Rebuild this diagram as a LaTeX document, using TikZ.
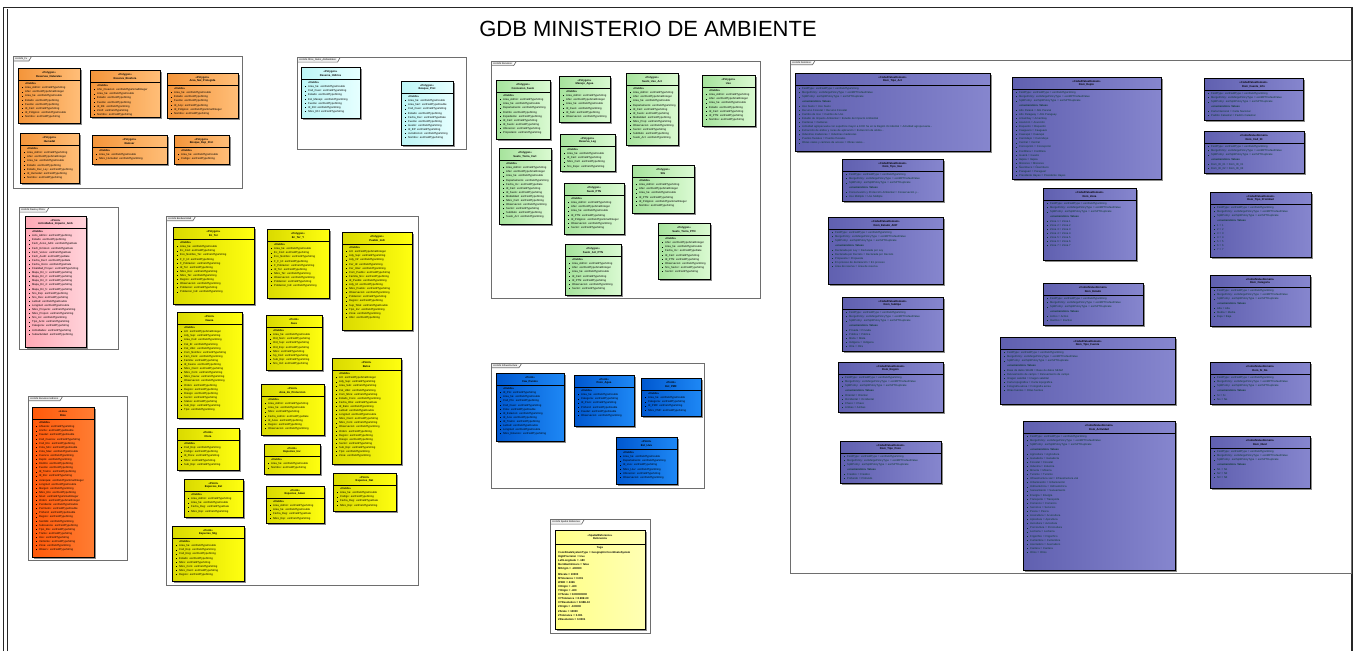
\documentclass[tikz,border=0pt]{standalone}
\usepackage{fontspec}
\setmainfont{Liberation Sans}
\usepackage{etoolbox}
\definecolor{orA}{HTML}{F4953A}\definecolor{orB}{HTML}{FFBE78}
\definecolor{cyA}{HTML}{BDF6F6}\definecolor{cyB}{HTML}{E6FFFF}
\definecolor{grA}{HTML}{A6E39C}\definecolor{grB}{HTML}{DAFAD2}
\definecolor{pkA}{HTML}{FFA9B6}\definecolor{pkB}{HTML}{FFD3DA}
\definecolor{rdA}{HTML}{FF5A0A}\definecolor{rdB}{HTML}{FF7D33}
\definecolor{ylA}{HTML}{DADA00}\definecolor{ylB}{HTML}{FFFF10}
\definecolor{blA}{HTML}{0058D0}\definecolor{blB}{HTML}{1E88F5}
\definecolor{lyA}{HTML}{FFFF88}\definecolor{lyB}{HTML}{FFFFB4}
\definecolor{puA}{HTML}{6060B0}\definecolor{puB}{HTML}{8686CE}
\definecolor{pkgc}{HTML}{6E6E6E}
\definecolor{domtxt}{HTML}{0A3A2A}
\newcommand\tS{: esriFieldTypeString}
\newcommand\tD{: esriFieldTypeDouble}
\newcommand\tI{: esriFieldTypeInteger}
\newcommand\tSI{: esriFieldTypeSmallInteger}
\newcommand\tDt{: esriFieldTypeDate}
\newcommand\fh[1]{\leavevmode\llap{\rule[0.5pt]{0.8pt}{0.8pt}\hspace{2pt}}\ignorespaces#1\par}
\tikzset{
  clsbox/.style={draw=black,line width=0.9pt,inner sep=0pt,anchor=north west,rectangle},
  clsshadow/.style={fill=black!45},
  clsline/.style={draw=black,line width=0.8pt},
  hdrtxt/.style={align=center,inner sep=0pt,font=\fontsize{2.7}{3.6}\selectfont\bfseries},
  fldtxt/.style={anchor=north west,inner sep=0pt,align=left,font=\fontsize{2.7}{4.1}\selectfont},
  pkgbox/.style={draw=pkgc,line width=1.3pt,fill=white,inner sep=0pt,anchor=north west,rectangle},
  pkgtab/.style={anchor=north west,inner xsep=1.5pt,inner ysep=0.9pt,fill=black!6,font=\fontsize{2.4}{2.8}\selectfont},
  pkgtabline/.style={draw=pkgc,line width=0.7pt},
  cOr/.style={left color=orA,right color=orB},
  cCy/.style={left color=cyA,right color=cyB},
  cGr/.style={left color=grA,right color=grB},
  cPk/.style={left color=pkA,right color=pkB},
  cRd/.style={left color=rdA,right color=rdB},
  cYl/.style={left color=ylA,right color=ylB},
  cBl/.style={left color=blA,right color=blB},
  cLy/.style={left color=lyA,right color=lyB},
  cPu/.style={left color=puA,right color=puB},
  titlefont/.style={font=\fontsize{22}{24}\selectfont,inner sep=0pt}
}
% package frame
\newcommand\pkg[6]{%
  \pgfmathsetmacro\pw{#4-#2}\pgfmathsetmacro\ph{#5-#3}%
  \node[pkgbox,minimum width=\pw pt,minimum height=\ph pt] (#1) at (#2,#3) {};
  \node[pkgtab] (#1-t) at (#2+0.7,#3+0.7) {#6};
  \draw[pkgtabline] (#1-t.south west) -- (#1-t.south east) -- ([xshift=2.5pt]#1-t.north east);
}
% class box
\newcommand\cls[9]{%
  \pgfmathsetmacro\cw{#4-#2}\pgfmathsetmacro\ch{#5-#3}\pgfmathsetmacro\tw{#4-#2-9}%
  \fill[clsshadow] (#2+1.8,#3+1.8) rectangle (#4+1.8,#5+1.8);
  \node[clsbox,#6,minimum width=\cw pt,minimum height=\ch pt] (#1) at (#2,#3) {};
  \draw[clsline] (#2,#3+12.5) -- (#4,#3+12.5);
  \node[hdrtxt] (#1-h) at ({(#2+#4)/2},#3+6.4) {#7\\#8};
  \node[fldtxt,text width=\tw pt] (#1-f) at (#2+7,#3+14.5) {\textbf{«Fields»}\par\forcsvlist\fh{#9}};
}
% coded value domain box
\newcommand\dom[7]{%
  \pgfmathsetmacro\cw{#4-#2}\pgfmathsetmacro\ch{#5-#3}\pgfmathsetmacro\tw{#4-#2-9}%
  \fill[clsshadow] (#2+1.8,#3+1.8) rectangle (#4+1.8,#5+1.8);
  \node[clsbox,cPu,minimum width=\cw pt,minimum height=\ch pt] (#1) at (#2,#3) {};
  \draw[clsline] (#2,#3+12.5) -- (#4,#3+12.5);
  \node[hdrtxt] (#1-h) at ({(#2+#4)/2},#3+6.4) {«CodedValueDomain»\\#6};
  \node[fldtxt,text width=\tw pt,text=domtxt] (#1-f) at (#2+7,#3+14.5) {\fh{FieldType: esriFieldType = esriFieldTypeString}\fh{MergePolicy: esriMergePolicyType = esriMPTDefaultValue}\fh{SplitPolicy: esriSplitPolicyType = esriSPTDuplicate}\vspace{1pt}\textbf{«enumeration» Values}\par\forcsvlist\fh{#7}};
}
\begin{document}
\begin{tikzpicture}[x=1pt,y=-1pt]
\useasboundingbox (0,0) rectangle (1358,651);
\fill[white] (0,0) rectangle (1358,651);
\draw[line width=1.4pt,black!85] (3.5,651) -- (3.5,7.5) -- (1352,7.5) -- (1352,651);
\draw[line width=0.8pt,black!85] (7.5,651) -- (7.5,9);
\node[titlefont] (title) at (648,29) {GDB MINISTERIO DE AMBIENTE};

% ---------------- orange package
\pkg{pkO}{13}{56}{242}{188}{ArcGIS\_Fx}
\cls{o1}{18}{68}{80}{123}{cOr}{«Polygon»}{Reservas\_Naturales}{Area\_Admin\tS,Afec\tSI,Area\_ha\tD,Estado\tS,Fuente\tS,Id\_Cart\tS,Id\_Poligono\tD,Nombre\tS}
\cls{o2}{90}{70}{160}{117}{cOr}{«Polygon»}{Reserva\_Biosfera}{Año\_Creacion\tSI,Area\_ha\tD,Estado\tS,Fuente\tS,Id\_Rb\tS,Zonif\tS,Nombre\tS}
\cls{o3}{167}{73}{238}{118}{cOr}{«Polygon»}{Area\_Nat\_Protegida}{Area\_ha\tD,Estado\tS,Fuente\tS,Id\_Anp\tS,Id\_Poligono\tSI,Nombre\tS}
\cls{o4}{20}{133}{79}{183}{cOr}{«Polygon»}{Humedal}{Area\_Admin\tS,Afec\tSI,Area\_ha\tD,Estado\tS,Estado\_Dec\_Ley\tS,Id\_Humedal\tS,Nombre\tS}
\cls{o5}{92}{135}{167}{164}{cOr}{«Polygon»}{Ramsar}{Area\_ha\tD,Nbre\_Humedal\tS}
\cls{o6}{174}{135}{229}{164}{cOr}{«Polygon»}{Bosque\_Dep\_Prot}{Area\_ha\tD,Codigo\tS}

% ---------------- cyan package
\pkg{pkC}{297}{57}{466}{149}{ArcGIS Otros\_Datos\_Ambientales}
\cls{c1}{301}{67}{360}{118}{cCy}{«Polygon»}{Reserva\_Hidrica}{Area\_ha\tD,Cod\_Cuen\tS,Estado\tS,Est\_Manejo\tS,Fuente\tS,Id\_RH\tS,Nbre\_RH\tS}
\cls{c2}{401}{81}{453}{145}{cCy}{«Polygon»}{Bosque\_Prot}{Area\_ha\tD,Area\_ha2\tD,Cod\_Cuen\tS,Estado\tS,Fecha\_Dec\tDt,Fuente\tS,Gestor\tS,Id\_BP\tS,Jurisdiccion\tS,Nombre\tS}

% ---------------- green package
\pkg{pkG}{491}{61}{760}{298}{ArcGIS Recursos}
\cls{g1}{496}{80}{550}{139}{cGr}{«Polygon»}{Concesion\_Suelo}{Area\_Admin\tS,Area\_ha\tD,Departamento\tS,Distrito\tS,Expediente\tS,Id\_Cart\tS,Id\_Suelo\tS,Ubicacion\tS,Propietario\tS}
\cls{g2}{559}{76}{610}{122}{cGr}{«Polygon»}{Manejo\_Agua}{Area\_Admin\tS,Afec\tSI,Area\_ha\tD,Id\_Cuen\tS,Id\_Sub\tS,Observacion\tS}
\cls{g3}{626}{73}{678}{145}{cGr}{«Polygon»}{Suelo\_Uso\_Act}{Area\_Admin\tS,Afec\tSI,Area\_ha\tD,Departamento\tS,Id\_Cart\tS,Id\_Suelo\tS,Modalidad\tS,Nbre\_Prop\tS,Observacion\tS,Sector\tS,Subtitulo\tS,Suelo\_Act\tS}
\cls{g4}{702}{75}{755}{126}{cGr}{«Polygon»}{Uso}{Area\_Admin\tS,Afec\tSI,Area\_ha\tD,Estado\tS,Id\_Cart\tS,Id\_PTN\tS,Nombre\tS}
\cls{g5}{560}{134}{615}{171}{cGr}{«Polygon»}{Reserva\_Leg}{Area\_ha\tD,Id\_Cart\tS,Nbre\_Cart\tS,Nro\_Expe\tS}
\cls{g6}{499}{148}{551}{224}{cGr}{«Polygon»}{Suelo\_Tierra\_Cart}{Area\_Admin\tS,Afec\tSI,Area\_ha\tD,Departamento\tS,Fecha\_Inc\tDt,Id\_Cart\tS,Id\_Suelo\tS,Modalidad\tS,Nbre\_Cart\tS,Observacion\tS,Sector\tS,Subtitulo\tS,Suelo\_Act\tS}
\cls{g7}{632}{165}{694}{213}{cGr}{«Polygon»}{SIG}{Area\_Admin\tS,Afec\tSI,Area\_ha\tD,Id\_PTN\tS,Id\_Poligono\tSI,Nombre\tS}
\cls{g8}{564}{183}{624}{234}{cGr}{«Polygon»}{Suelo\_PTN}{Area\_Admin\tS,Afec\tSI,Area\_ha\tD,Id\_PTN\tS,Id\_Poligono\tSI,Observacion\tS,Sector\tS}
\cls{g9}{658}{223}{710}{279}{cGr}{«Polygon»}{Suelo\_Tierra\_PTN}{Afec\tSI,Area\_ha\tD,Fecha\_Inc\tDt,Id\_Cart\tS,Id\_PTN\tS,Observacion\tS,Nro\_Sector\tS,Sector\tS}
\cls{g10}{565}{244}{621}{295}{cGr}{«Polygon»}{Suelo\_Act\_PTN}{Area\_Admin\tS,Afec\tSI,Area\_ha\tD,Id\_Cart\tS,Id\_PTN\tS,Observacion\tS,Sector\tS}

% ---------------- pink package
\pkg{pkK}{19}{207}{118}{349}{ArcGIS Fauna y Flora}
\cls{k1}{25}{216}{86}{347}{cPk}{«Point»}{Actividades\_Impacto\_Amb}{Acto\_Admin\tS,Estado\tS,Fech\_Aviso\_Adm\tDt,Fech\_Emision\tDt,Fech\_Vence\tDt,Fech\_Audit\tDt,Fecha\_Decl\tDt,Fecha\_Inicio\tDt,Finalidad\_Proyec\tS,Mapa\_Dir\_1\tS,Mapa\_Dir\_2\tS,Mapa\_Dir\_3\tS,Mapa\_Dir\_4\tS,Mapa\_Dir\_5\tS,Nro\_Exp\tS,Nro\_Res\tS,Latitud\tD,Longitud\tD,Nbre\_Proyecto\tS,Nbre\_Propon\tS,Nro\_Lic\tS,Tipo\_Acto\tS,Categoria\tS,Actividades\tS,Subactividad\tS}

% ---------------- red-orange package
\pkg{pkR}{28}{396}{127}{560}{ArcGIS Recursos Hidricos}
\cls{r1}{32}{407}{94}{557}{cRd}{«Line»}{Rios}{Afluente\tS,Ancho\tD,Caudal\tD,Cod\_Cuenca\tS,Cod\_Rio\tS,Cota\_Min\tD,Cota\_Max\tD,Cuenca\tS,Depto\tS,Distrito\tS,Fuente\tS,Id\_Tramo\tS,Id\_Rio\tS,Jerarquia\tSI,Longitud\tD,Margen\tS,Nbre\_Rio\tS,Nivel\tSI,Orden\tSI,Pendiente\tD,Perimetro\tD,Profund\tD,Region\tS,Sentido\tS,Subcuenca\tS,Tipo\_Rio\tS,Tramo\tS,Uso\tS,Vertiente\tS,Zona\tS,Observ\tS}

% ---------------- yellow package
\pkg{pkY}{166}{216}{418}{585}{ArcGIS Biodiversidad}
\cls{y1}{173}{227}{254}{304}{cYl}{«Polygon»}{Ec\_Ter}{Area\_ha\tD,Ec\_Cod\tS,Eco\_Nombre\_Ter\tS,F\_F\_Id\tS,F\_Poblacion\tS,Id\_Ter\tS,Nbre\_Eco\tS,Nbre\_Ter\tS,Region\tS,Observacion\tS,Poblacion\tS,Poblacion\_Ind\tS}
\cls{y2}{267}{229}{329}{298}{cYl}{«Polygon»}{Ec\_Ter\_Y}{Area\_ha\tD,Ec\_Cod\tS,Eco\_Nombre\tS,F\_F\_Id\tS,F\_Poblacion\tS,Id\_Ter\tS,Nbre\_Ter\tS,Observacion\tS,Poblacion\tS,Poblacion\_Ind\tS}
\cls{y3}{342}{232}{412}{330}{cYl}{«Polygon»}{Pueblo\_Indi}{Art\tSI,Ady\_Sup\tS,Ady\_Inf\tS,Cer\_Id\tS,Cer\_Inter\tS,Com\_Pueblo\tS,Familia\_Nro\tS,Id\_Pueblo\tS,Ady\_Id\tS,Nbre\_Pueblo\tS,Observacion\tS,Poblacion\tS,Region\tS,Sup\_Total\tD,Tipo\_Inv\tS,Zona\tS,Ubic\tS}
\cls{y4}{177}{312}{242}{418}{cYl}{«Point»}{Fauna}{Art\tSI,Ady\_Sup\tS,Area\_Cod\tS,Cat\_Ei\tS,Cat\_Ubic\tS,Com\_Nombre\tS,Fam\_Cient\tS,Familia\tS,Id\_Fauna\tS,Nbre\_Cient\tS,Nbre\_Com\tS,Nbre\_Fauna\tS,Observacion\tS,Orden\tS,Region\tS,Riesgo\tS,Sector\tS,Status\tS,Sub\_Esp\tS,Tipo\tS}
\cls{y5}{266}{315}{322}{370}{cYl}{«Point»}{Aves}{Area\_ha\tD,Ord\_Nom\tS,Ord\_Sup\tS,Ord\_Esp\tS,Nbre\tS,Sp\_Cod\tS,Sub\_Esp\tS,Nro\_Ind\tS}
\cls{y6}{261}{384}{324}{435}{cYl}{«Point»}{Area\_de\_Proteccion}{Area\_Admin\tS,Area\_ha\tD,Nbre\tS,Fecha\_Admin\tDt,Id\_Area\tS,Region\tS,Observacion\tS}
\cls{y7}{332}{358}{401}{464}{cYl}{«Point»}{Batos}{Art\tSI,Ady\_Sup\tS,Area\_Sub\tS,Cat\_Ubic\tS,Com\_Nbre\tS,Estado\_Cons\tS,Fecha\_Obs\tDt,Id\_Bato\tS,Latitud\tD,Longitud\tD,Nbre\_Cient\tS,Nbre\_Com\tS,Observacion\tS,Orden\tS,Region\tS,Riesgo\tS,Sector\tS,Sub\_Esp\tS,Tipo\tS,Zona\tS}
\cls{y8}{177}{428}{239}{470}{cYl}{«Point»}{Flora}{Cod\_Esp\tS,Codigo\tS,Id\_Flora\tS,Nbre\tS,Sub\_Esp\tS}
\cls{y9}{264}{444}{320}{474}{cYl}{«Point»}{Especies\_Inv}{Area\_ha\tD,Nombre\tS}
\cls{y10}{184}{479}{243}{517}{cYl}{«Point»}{Especies\_Ext}{Area\_Admin\tS,Area\_ha\tD,Fecha\_Reg\tDt,Nbre\_Esp\tS}
\cls{y11}{266}{486}{324}{523}{cYl}{«Point»}{Especies\_Amen}{Area\_Admin\tS,Area\_ha\tD,Fecha\_Reg\tDt,Nbre\_Esp\tS}
\cls{y12}{333}{473}{396}{511}{cYl}{«Point»}{Especies\_Nat}{Area\_ha\tD,Codigo\tS,Fecha\_Reg\tDt,Nbre\_Esp\tS}
\cls{y13}{172}{526}{244}{581}{cYl}{«Point»}{Especies\_Mig}{Area\_ha\tD,Cod\_Esp\tS,Cod\_Reg\tS,Estado\tS,Nbre\tS,Nbre\_Com\tS,Nbre\_Cient\tS,Region\tS}

% ---------------- blue package
\pkg{pkB}{491}{363}{704}{488}{ArcGIS Infraestructura}
\cls{b1}{496}{373}{564}{441}{cBl}{«Point»}{Cau\_Puntos}{Id\_Pto\tS,Area\_ha\tD,Cod\_Pto\tS,Cod\_Cuen\tS,Cota\tD,Id\_Estacion\tS,Id\_Aca\tS,Id\_Tramo\tS,Latitud\tD,Longitud\tD,Nbre\_Estacion\tS}
\cls{b2}{574}{375}{634}{426}{cBl}{«Point»}{Pozo\_Agua}{Area\_ha\tD,Categoria\tS,Id\_Pozo\tS,Profund\tD,Caudal\tD,Observacion\tS}
\cls{b3}{641}{378}{701}{416}{cBl}{«Point»}{Est\_PMF}{Area\_ha\tD,Categoria\tS,Id\_PMF\tS,Nbre\_PMF\tS}
\cls{b4}{616}{437}{677}{484}{cBl}{«Point»}{Est\_Lluv}{Area\_ha\tD,Departamento\tS,Id\_Lluv\tS,Nbre\_Lluv\tS,Ubicacion\tS,Observacion\tS}

% ---------------- spatial reference package
\pkg{pkL}{550}{519}{650}{633}{ArcGIS Spatial Reference}
\fill[clsshadow] (556.8,531.8) rectangle (646.8,630.8);
\node[clsbox,cLy,minimum width=90pt,minimum height=99pt] (l1) at (555,530) {};
\draw[clsline] (555,544) -- (645,544);
\node[hdrtxt] (l1-h) at (600,537) {«SpatialReference»\\Referencia};
\node[hdrtxt] (l1-t) at (600,548) {Tags};
\node[fldtxt,text width=84pt,font=\fontsize{2.7}{4.1}\selectfont\bfseries] (l1-f) at (558,551) {%
CoordinateSystemType = GeographicCoordinateSystem\par HighPrecision = true\par LeftLongitude = -180\par MeridianInHours = false\par MOrigin = -100000\par\vspace{1.5pt}
MScale = 10000\par MTolerance = 0.001\par WKID = 4326\par XOrigin = -400\par YOrigin = -400\par XYScale = 1000000000\par XYTolerance = 8.98E-09\par XYResolution = 8.98E-10\par ZOrigin = -100000\par ZScale = 10000\par ZTolerance = 0.001\par ZResolution = 0.0001\par};

% ---------------- purple package
\pkg{pkP}{790}{60}{1351}{573}{ArcGIS Dominios}
\dom{p1}{795}{73}{990}{151}{Dom\_Tipo\_Act}{Uso Suelo = Uso Suelo,Recurso Forestal = Recurso Forestal,Cambio de Uso = Cambio de Uso,Estudio de Impacto Ambiental = Estudio de Impacto Ambiental,Canteras = Canteras,Actividad agropecuaria con superficie mayor a 1000 ha en la Región Occidental = Actividad agropecuaria...,Extracción de áridos y rocas de aplicación = Extracción de áridos...,Industrias madereras = Industrias madereras,Puertos fluviales = Puertos fluviales,Obras viales y caminos de acceso = Obras viales...}
\dom{p2}{842}{159}{943}{201}{Dom\_Tipo\_Uso}{Conservación y Protección Ambiental = Conservación y...,Uso Múltiple = Uso Múltiple}
\dom{p3}{1012}{77}{1161}{179}{Dom\_Depto}{Alto Paraná = Alto Paraná,Alto Paraguay = Alto Paraguay,Amambay = Amambay,Asunción = Asunción,Boquerón = Boquerón,Caaguazú = Caaguazú,Caazapá = Caazapá,Canindeyú = Canindeyú,Central = Central,Concepción = Concepción,Cordillera = Cordillera,Guairá = Guairá,Itapúa = Itapúa,Misiones = Misiones,Ñeembucú = Ñeembucú,Paraguarí = Paraguarí,Presidente Hayes = Presidente Hayes}
\dom{p4}{1204}{78}{1303}{120}{Dom\_Fuente\_Info}{Carta Nacional = Carta Nacional,Padrón Catastral = Padrón Catastral}
\dom{p5}{1204}{131}{1304}{173}{Dom\_Cod\_ID}{Dom\_ID\_01 = Dom\_ID\_01,Dom\_ID\_02 = Dom\_ID\_02}
\dom{p6}{1210}{192}{1311}{257}{Dom\_Tipo\_Prioridad}{1 = 1,2 = 2,3 = 3,4 = 4,5 = 5,6 = 6,7 = 7}
\dom{p7}{828}{217}{943}{284}{Dom\_Estado\_ANP}{Declarada por Ley = Declarada por Ley,Declarada por Decreto = Declarada por Decreto,Propuesta = Propuesta,En proceso de declaración = En proceso,Área de reserva = Área de reserva}
\dom{p8}{1043}{188}{1136}{260}{Dom\_Zona}{Zona 1 = Zona 1,Zona 2 = Zona 2,Zona 3 = Zona 3,Zona 4 = Zona 4,Zona 5 = Zona 5,Zona 6 = Zona 6,Zona 7 = Zona 7}
\dom{p9}{842}{297}{943}{351}{Dom\_Subtipo}{Privada = Privada,Pública = Pública,Mixta = Mixta,Indígena = Indígena,Otra = Otra}
\dom{p10}{1043}{283}{1143}{325}{Dom\_Estado}{Activo = Activo,Inactivo = Inactivo}
\dom{p11}{1210}{275}{1310}{326}{Dom\_Categoria}{Alta = Alta,Media = Media,Baja = Baja}
\dom{p12}{1000}{337}{1175}{404}{Dom\_Tipo\_Fuente}{Base de datos SEAM = Base de datos SEAM,Relevamiento de campo = Relevamiento de campo,Imagen satelital = Imagen satelital,Carta topográfica = Carta topográfica,Fotografía aérea = Fotografía aérea,Otras fuentes = Otras fuentes}
\dom{p13}{838}{362}{943}{412}{Dom\_Region}{Oriental = Oriental,Occidental = Occidental,Chaco = Chaco,Ambas = Ambas}
\dom{p14}{1210}{362}{1310}{404}{Dom\_Si\_No}{Si = Si,No = No}
\dom{p15}{840}{441}{941}{483}{Dom\_Tipo\_Pozo}{Freático = Freático,Profundo = Profundo}
\dom{p16}{1023}{421}{1175}{570}{Dom\_Actividad}{Agricultura = Agricultura,Ganadería = Ganadería,Forestal = Forestal,Industria = Industria,Minería = Minería,Turismo = Turismo,Infraestructura vial = Infraestructura vial,Urbanización = Urbanización,Hidroeléctrica = Hidroeléctrica,Saneamiento = Saneamiento,Energía = Energía,Transporte = Transporte,Comercio = Comercio,Servicios = Servicios,Pesca = Pesca,Acuicultura = Acuicultura,Apicultura = Apicultura,Avicultura = Avicultura,Porcicultura = Porcicultura,Lechería = Lechería,Frigorífico = Frigorífico,Curtiembre = Curtiembre,Aserradero = Aserradero,Cantera = Cantera,Otros = Otros}
\dom{p17}{1210}{436}{1310}{488}{Dom\_Nivel}{N1 = N1,N2 = N2,N3 = N3}
\end{tikzpicture}
\end{document}
